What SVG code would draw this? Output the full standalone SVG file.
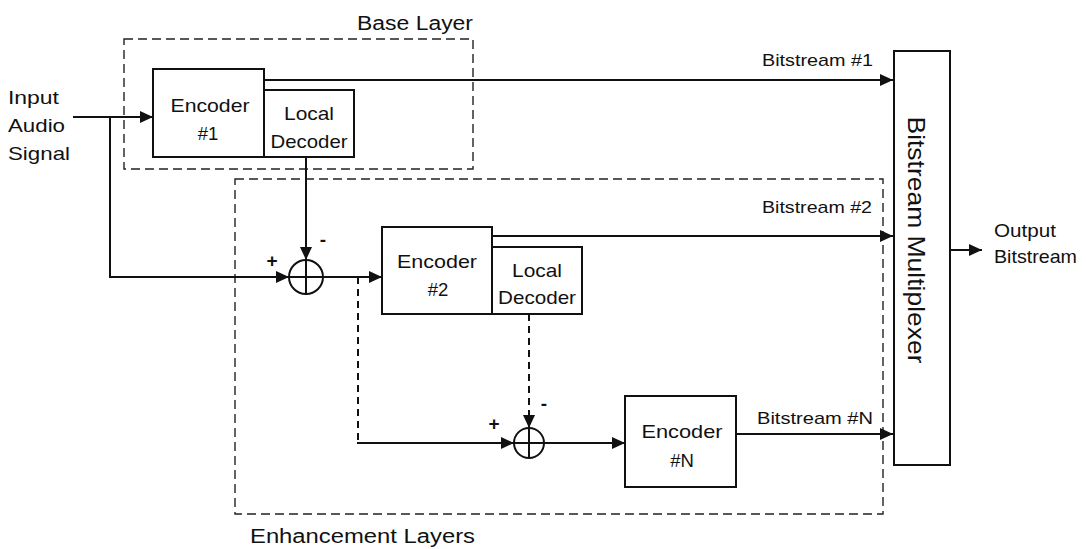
<svg xmlns="http://www.w3.org/2000/svg" width="1086" height="549" viewBox="0 0 1086 549">
<style>
  text { font-family: "Liberation Sans", Arial, sans-serif; fill: #111; }
  .lbl { font-size: 18.5px; }
  .big { font-size: 20px; }
  .sig { font-size: 17px; }
  .pm { font-size: 19px; font-weight: bold; }
  .box { fill: #fff; stroke: #111; stroke-width: 2; }
  .layer { fill: none; stroke: #222; stroke-width: 1.4; stroke-dasharray: 9 5; }
  .wire { fill: none; stroke: #111; stroke-width: 2; }
  .dwire { fill: none; stroke: #111; stroke-width: 2; stroke-dasharray: 7 5; }
  .sum { fill: #fff; stroke: #111; stroke-width: 2; }
</style>
<defs>
  <marker id="arr" markerUnits="userSpaceOnUse" markerWidth="14" markerHeight="12" refX="13" refY="6" orient="auto">
    <path d="M0,0 L13,6 L0,12 Z" fill="#111"/>
  </marker>
</defs>

<rect width="1086" height="549" fill="#fff"/>

<g id="base-layer">
  <rect class="layer" x="124" y="39" width="349" height="130"/>
  <text class="big" x="357" y="29.5" textLength="116" lengthAdjust="spacingAndGlyphs">Base Layer</text>
</g>

<g id="enhancement-layers">
  <rect class="layer" x="235" y="179" width="648" height="335"/>
  <text class="big" x="250" y="543" textLength="225" lengthAdjust="spacingAndGlyphs">Enhancement Layers</text>
</g>

<g id="input-label">
  <text class="lbl" x="8" y="104" textLength="51" lengthAdjust="spacingAndGlyphs">Input</text>
  <text class="lbl" x="8" y="132" textLength="57" lengthAdjust="spacingAndGlyphs">Audio</text>
  <text class="lbl" x="8" y="160" textLength="62" lengthAdjust="spacingAndGlyphs">Signal</text>
</g>

<g id="encoder1">
  <rect class="box" x="153" y="69" width="111" height="88"/>
  <text class="lbl" x="210" y="112" text-anchor="middle" textLength="79" lengthAdjust="spacingAndGlyphs">Encoder</text>
  <text class="lbl" x="208" y="140" text-anchor="middle">#1</text>
</g>

<g id="local-decoder1">
  <rect class="box" x="264" y="90" width="90" height="67"/>
  <text class="lbl" x="309" y="119.5" text-anchor="middle" textLength="50" lengthAdjust="spacingAndGlyphs">Local</text>
  <text class="lbl" x="309" y="147.5" text-anchor="middle" textLength="77" lengthAdjust="spacingAndGlyphs">Decoder</text>
</g>

<g id="sum1">
  <circle class="sum" cx="306" cy="277" r="17"/>
  <line class="wire" x1="289" y1="277" x2="323" y2="277"/>
  <line class="wire" x1="306" y1="260" x2="306" y2="294"/>
  <text class="pm" x="272" y="267" text-anchor="middle">+</text>
  <text class="pm" x="323" y="246" text-anchor="middle">-</text>
</g>

<g id="encoder2">
  <rect class="box" x="382" y="227" width="110" height="87"/>
  <text class="lbl" x="437" y="268" text-anchor="middle" textLength="80" lengthAdjust="spacingAndGlyphs">Encoder</text>
  <text class="lbl" x="438" y="296" text-anchor="middle">#2</text>
</g>

<g id="local-decoder2">
  <rect class="box" x="492" y="247" width="90" height="67"/>
  <text class="lbl" x="537" y="277" text-anchor="middle" textLength="50" lengthAdjust="spacingAndGlyphs">Local</text>
  <text class="lbl" x="537" y="304" text-anchor="middle" textLength="78" lengthAdjust="spacingAndGlyphs">Decoder</text>
</g>

<g id="sum2">
  <circle class="sum" cx="529" cy="443" r="15"/>
  <line class="wire" x1="514" y1="443" x2="544" y2="443"/>
  <line class="wire" x1="529" y1="428" x2="529" y2="458"/>
  <text class="pm" x="494" y="430" text-anchor="middle">+</text>
  <text class="pm" x="544" y="410" text-anchor="middle">-</text>
</g>

<g id="encoderN">
  <rect class="box" x="625" y="396" width="111" height="91"/>
  <text class="lbl" x="682" y="438" text-anchor="middle" textLength="81" lengthAdjust="spacingAndGlyphs">Encoder</text>
  <text class="lbl" x="682" y="467" text-anchor="middle">#N</text>
</g>

<g id="multiplexer">
  <rect class="box" x="894" y="51" width="56" height="414"/>
  <text x="908" y="240" text-anchor="middle" font-size="24.5" transform="rotate(90 908 240)" textLength="247" lengthAdjust="spacingAndGlyphs">Bitstream Multiplexer</text>
</g>

<g id="output-label">
  <text class="lbl" x="994" y="237" textLength="62" lengthAdjust="spacingAndGlyphs">Output</text>
  <text class="lbl" x="994" y="263" textLength="83" lengthAdjust="spacingAndGlyphs">Bitstream</text>
</g>

<g id="connectors">
  <line class="wire" x1="73" y1="117" x2="153" y2="117" marker-end="url(#arr)"/>
  <polyline class="wire" points="110,117 110,277 289,277" marker-end="url(#arr)"/>
  <line class="wire" x1="306" y1="157" x2="306" y2="260" marker-end="url(#arr)"/>
  <line class="wire" x1="323" y1="277" x2="382" y2="277" marker-end="url(#arr)"/>
  <line class="wire" x1="264" y1="80" x2="893" y2="80" marker-end="url(#arr)"/>
  <line class="wire" x1="492" y1="236" x2="893" y2="236" marker-end="url(#arr)"/>
  <line class="dwire" x1="358" y1="277" x2="358" y2="443"/>
  <line class="wire" x1="357" y1="443" x2="514" y2="443" marker-end="url(#arr)"/>
  <line class="dwire" x1="529" y1="314" x2="529" y2="428" marker-end="url(#arr)"/>
  <line class="wire" x1="544" y1="443" x2="625" y2="443" marker-end="url(#arr)"/>
  <line class="wire" x1="736" y1="434" x2="893" y2="434" marker-end="url(#arr)"/>
  <line class="wire" x1="950" y1="250" x2="982" y2="250" marker-end="url(#arr)"/>
  <text class="sig" x="762" y="66" textLength="111" lengthAdjust="spacingAndGlyphs">Bitstream #1</text>
  <text class="sig" x="762" y="213" textLength="110" lengthAdjust="spacingAndGlyphs">Bitstream #2</text>
  <text class="sig" x="757" y="424" textLength="116" lengthAdjust="spacingAndGlyphs">Bitstream #N</text>
</g>
</svg>
